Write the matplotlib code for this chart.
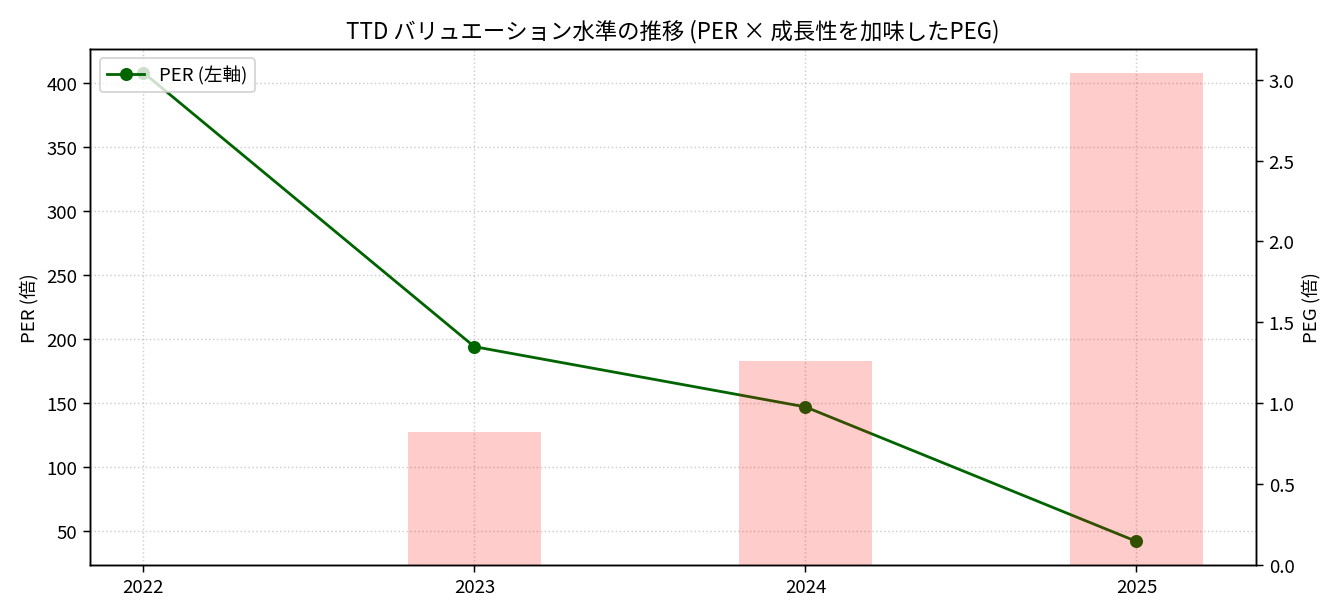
import matplotlib.pyplot as plt
import numpy as np

plt.rcParams['font.family'] = ['Noto Sans CJK JP', 'DejaVu Sans']

years = ['2022', '2023', '2024', '2025']
per = [408, 194, 147, 42]
peg = [np.nan, 0.82, 1.26, 3.04]

x = np.arange(len(years))
fig, ax1 = plt.subplots(figsize=(10, 4.6), dpi=134.1)
ax1.plot(x, per, marker='o', color='darkgreen', label='PER (左軸)')
ax1.set_ylabel('PER (倍)')
ax1.set_xticks(x)
ax1.set_xticklabels(years)
ax1.grid(True, linestyle=':', alpha=0.6)

ax2 = ax1.twinx()
ax2.bar(x, peg, width=0.4, color='red', alpha=0.2, label='PEG (右軸)')
ax2.set_ylabel('PEG (倍)')
ax2.set_ylim(0, 3.19)

ax1.legend(loc='upper left')
ax1.set_title('TTD バリュエーション水準の推移 (PER × 成長性を加味したPEG)')
fig.tight_layout()
fig.savefig('out.png')
